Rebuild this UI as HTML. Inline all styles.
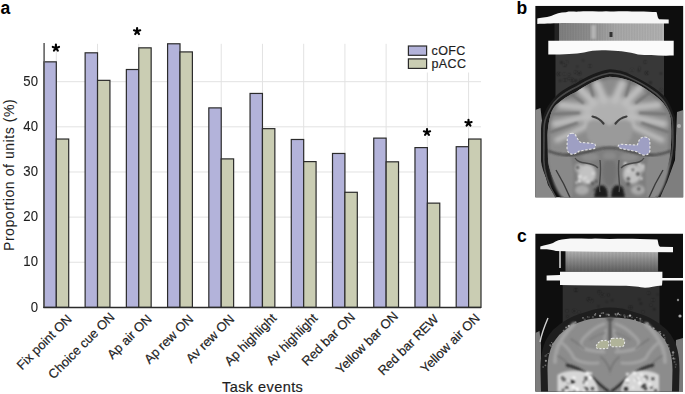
<!DOCTYPE html><html><head><meta charset="utf-8"><style>
html,body{margin:0;padding:0;background:#fff;}
body{width:685px;height:394px;position:relative;overflow:hidden;font-family:"Liberation Sans",sans-serif;color:#1e1e1e;}
.t:not(.pl):not(.yt){-webkit-text-stroke:0.2px #1e1e1e;}
.t{position:absolute;white-space:nowrap;line-height:1;}
.pl{font-weight:bold;font-size:17.5px;color:#000;}
.yt{font-size:14px;text-align:right;width:30px;-webkit-text-stroke:0.1px #1e1e1e;transform-origin:100% 50%;transform:scaleX(0.94);}
.xl{font-size:12.9px;transform-origin:100% 100%;transform:rotate(-45deg);}
.ast{font-size:23px;color:#000;font-weight:bold;}
svg{position:absolute;left:0;top:0;}
</style></head><body>

<svg width="685" height="394" viewBox="0 0 685 394"><defs><filter id="bl05" x="-20%" y="-20%" width="140%" height="140%"><feGaussianBlur stdDeviation="0.5"/></filter><filter id="bl06" x="-20%" y="-20%" width="140%" height="140%"><feGaussianBlur stdDeviation="0.6"/></filter><filter id="bl08" x="-20%" y="-20%" width="140%" height="140%"><feGaussianBlur stdDeviation="0.8"/></filter><filter id="bl1" x="-20%" y="-20%" width="140%" height="140%"><feGaussianBlur stdDeviation="1"/></filter><filter id="bl15" x="-20%" y="-20%" width="140%" height="140%"><feGaussianBlur stdDeviation="1.5"/></filter><filter id="bl2" x="-20%" y="-20%" width="140%" height="140%"><feGaussianBlur stdDeviation="1.9"/></filter></defs><clipPath id="cb"><rect x="535.2" y="5.8" width="148.2" height="191.8"/></clipPath><linearGradient id="gbb" x1="0" x2="1" y1="0" y2="0"><stop offset="0" stop-color="#7e7e7e"/><stop offset="0.3" stop-color="#8e8e8e"/><stop offset="0.55" stop-color="#a8a8a8"/><stop offset="1" stop-color="#b2b2b2"/></linearGradient><g clip-path="url(#cb)"><rect x="535.2" y="5.8" width="148.2" height="191.8" fill="#0e0e0e"/><rect x="555.5" y="40" width="108.5" height="85" fill="#383838"/><g filter="url(#bl08)"><circle cx="605.0" cy="80.6" r="1.2" fill="#252525"/><circle cx="604.9" cy="93.6" r="0.7" fill="#252525"/><circle cx="623.8" cy="90.9" r="0.7" fill="#252525"/><circle cx="572.0" cy="79.7" r="1.2" fill="#1c1c1c"/><circle cx="620.1" cy="73.4" r="0.9" fill="#1c1c1c"/><circle cx="623.1" cy="92.6" r="0.6" fill="#1c1c1c"/><circle cx="577.2" cy="66.6" r="0.6" fill="#252525"/><circle cx="591.6" cy="82.0" r="0.7" fill="#1c1c1c"/><circle cx="624.9" cy="78.0" r="1.1" fill="#252525"/><circle cx="626.4" cy="73.9" r="1.0" fill="#1c1c1c"/><circle cx="632.0" cy="69.9" r="0.8" fill="#252525"/><circle cx="560.2" cy="80.8" r="0.7" fill="#1c1c1c"/><circle cx="646.7" cy="73.0" r="1.3" fill="#1c1c1c"/><circle cx="579.6" cy="96.8" r="0.6" fill="#252525"/><circle cx="660.9" cy="73.5" r="0.7" fill="#1c1c1c"/><circle cx="639.5" cy="67.9" r="0.7" fill="#252525"/><circle cx="558.6" cy="74.0" r="1.2" fill="#1c1c1c"/><circle cx="583.1" cy="60.4" r="0.6" fill="#252525"/><circle cx="575.8" cy="80.6" r="0.9" fill="#1c1c1c"/><circle cx="661.4" cy="89.9" r="0.9" fill="#252525"/><circle cx="569.3" cy="74.5" r="0.7" fill="#252525"/><circle cx="648.6" cy="98.9" r="1.0" fill="#1c1c1c"/><circle cx="579.3" cy="73.3" r="1.2" fill="#1c1c1c"/><circle cx="561.5" cy="62.4" r="0.9" fill="#1c1c1c"/><circle cx="638.9" cy="70.5" r="0.8" fill="#1c1c1c"/><circle cx="564.9" cy="65.2" r="1.0" fill="#1c1c1c"/><circle cx="620.7" cy="72.4" r="0.9" fill="#252525"/><circle cx="645.2" cy="62.0" r="0.9" fill="#1c1c1c"/><circle cx="589.9" cy="66.0" r="1.0" fill="#1c1c1c"/><circle cx="573.8" cy="83.7" r="1.0" fill="#252525"/><circle cx="650.5" cy="82.6" r="0.9" fill="#1c1c1c"/><circle cx="568.6" cy="78.5" r="0.8" fill="#252525"/><circle cx="584.2" cy="92.2" r="1.0" fill="#252525"/><circle cx="612.1" cy="96.9" r="1.3" fill="#1c1c1c"/><circle cx="581.2" cy="80.6" r="1.2" fill="#1c1c1c"/><circle cx="586.7" cy="96.4" r="0.7" fill="#1c1c1c"/><circle cx="564.3" cy="74.1" r="0.8" fill="#1c1c1c"/><circle cx="575.7" cy="72.2" r="1.0" fill="#1c1c1c"/><circle cx="566.8" cy="62.1" r="0.9" fill="#252525"/><circle cx="626.6" cy="86.4" r="1.0" fill="#1c1c1c"/><circle cx="619.5" cy="96.6" r="0.9" fill="#252525"/><circle cx="631.3" cy="98.4" r="0.6" fill="#1c1c1c"/><circle cx="608.1" cy="88.1" r="0.8" fill="#1c1c1c"/><circle cx="565.0" cy="80.0" r="1.1" fill="#1c1c1c"/><circle cx="641.1" cy="96.3" r="0.8" fill="#252525"/></g><path d="M535.2,110 L540.5,108 L542.5,125 L541,160 L548,185 L556,197.6 L535.2,197.6Z" fill="#888"/><path d="M677,112 L683.4,110 L683.4,197.6 L660,197.6 L667,182 L675,160 Z" fill="#7e7e7e"/><circle cx="679" cy="126" r="2" fill="#b0b0b0" filter="url(#bl06)"/><rect x="557.5" y="22.5" width="106.5" height="18.8" fill="url(#gbb)"/><g filter="url(#bl05)"><rect x="559.0" y="23" width="0.6" height="18" fill="#000" opacity="0.08"/><rect x="560.6" y="23" width="0.6" height="18" fill="#000" opacity="0.08"/><rect x="562.2" y="23" width="0.6" height="18" fill="#000" opacity="0.08"/><rect x="563.8" y="23" width="0.6" height="18" fill="#000" opacity="0.08"/><rect x="565.4" y="23" width="0.6" height="18" fill="#000" opacity="0.08"/><rect x="567.0" y="23" width="0.6" height="18" fill="#000" opacity="0.08"/><rect x="568.6" y="23" width="0.6" height="18" fill="#000" opacity="0.08"/><rect x="570.2" y="23" width="0.6" height="18" fill="#000" opacity="0.08"/><rect x="571.8" y="23" width="0.6" height="18" fill="#000" opacity="0.08"/><rect x="573.4" y="23" width="0.6" height="18" fill="#000" opacity="0.08"/><rect x="575.0" y="23" width="0.6" height="18" fill="#000" opacity="0.08"/><rect x="576.6" y="23" width="0.6" height="18" fill="#000" opacity="0.08"/><rect x="578.2" y="23" width="0.6" height="18" fill="#000" opacity="0.08"/><rect x="579.8" y="23" width="0.6" height="18" fill="#000" opacity="0.08"/><rect x="581.4" y="23" width="0.6" height="18" fill="#000" opacity="0.08"/><rect x="583.0" y="23" width="0.6" height="18" fill="#000" opacity="0.08"/><rect x="584.6" y="23" width="0.6" height="18" fill="#000" opacity="0.08"/><rect x="586.2" y="23" width="0.6" height="18" fill="#000" opacity="0.08"/><rect x="587.8" y="23" width="0.6" height="18" fill="#000" opacity="0.08"/><rect x="589.4" y="23" width="0.6" height="18" fill="#000" opacity="0.08"/><rect x="591.0" y="23" width="0.6" height="18" fill="#000" opacity="0.08"/><rect x="592.6" y="23" width="0.6" height="18" fill="#000" opacity="0.08"/><rect x="594.2" y="23" width="0.6" height="18" fill="#000" opacity="0.08"/><rect x="595.8" y="23" width="0.6" height="18" fill="#000" opacity="0.08"/><rect x="597.4" y="23" width="0.6" height="18" fill="#000" opacity="0.08"/><rect x="599.0" y="23" width="0.6" height="18" fill="#000" opacity="0.08"/><rect x="600.6" y="23" width="0.6" height="18" fill="#000" opacity="0.08"/><rect x="602.2" y="23" width="0.6" height="18" fill="#000" opacity="0.08"/><rect x="603.8" y="23" width="0.6" height="18" fill="#000" opacity="0.08"/><rect x="605.4" y="23" width="0.6" height="18" fill="#000" opacity="0.08"/><rect x="607.0" y="23" width="0.6" height="18" fill="#000" opacity="0.08"/><rect x="608.6" y="23" width="0.6" height="18" fill="#000" opacity="0.08"/><rect x="610.2" y="23" width="0.6" height="18" fill="#000" opacity="0.08"/><rect x="611.8" y="23" width="0.6" height="18" fill="#000" opacity="0.08"/><rect x="613.4" y="23" width="0.6" height="18" fill="#000" opacity="0.08"/><rect x="615.0" y="23" width="0.6" height="18" fill="#000" opacity="0.08"/><rect x="616.6" y="23" width="0.6" height="18" fill="#000" opacity="0.08"/><rect x="618.2" y="23" width="0.6" height="18" fill="#000" opacity="0.08"/><rect x="619.8" y="23" width="0.6" height="18" fill="#000" opacity="0.08"/><rect x="621.4" y="23" width="0.6" height="18" fill="#000" opacity="0.08"/><rect x="623.0" y="23" width="0.6" height="18" fill="#000" opacity="0.08"/><rect x="624.6" y="23" width="0.6" height="18" fill="#000" opacity="0.08"/><rect x="626.2" y="23" width="0.6" height="18" fill="#000" opacity="0.08"/><rect x="627.8" y="23" width="0.6" height="18" fill="#000" opacity="0.08"/><rect x="629.4" y="23" width="0.6" height="18" fill="#000" opacity="0.08"/><rect x="631.0" y="23" width="0.6" height="18" fill="#000" opacity="0.08"/><rect x="632.6" y="23" width="0.6" height="18" fill="#000" opacity="0.08"/><rect x="634.2" y="23" width="0.6" height="18" fill="#000" opacity="0.08"/><rect x="635.8" y="23" width="0.6" height="18" fill="#000" opacity="0.08"/><rect x="637.4" y="23" width="0.6" height="18" fill="#000" opacity="0.08"/><rect x="639.0" y="23" width="0.6" height="18" fill="#000" opacity="0.08"/><rect x="640.6" y="23" width="0.6" height="18" fill="#000" opacity="0.08"/><rect x="642.2" y="23" width="0.6" height="18" fill="#000" opacity="0.08"/><rect x="643.8" y="23" width="0.6" height="18" fill="#000" opacity="0.08"/><rect x="645.4" y="23" width="0.6" height="18" fill="#000" opacity="0.08"/><rect x="647.0" y="23" width="0.6" height="18" fill="#000" opacity="0.08"/><rect x="648.6" y="23" width="0.6" height="18" fill="#000" opacity="0.08"/><rect x="650.2" y="23" width="0.6" height="18" fill="#000" opacity="0.08"/><rect x="651.8" y="23" width="0.6" height="18" fill="#000" opacity="0.08"/><rect x="653.4" y="23" width="0.6" height="18" fill="#000" opacity="0.08"/><rect x="655.0" y="23" width="0.6" height="18" fill="#000" opacity="0.08"/><rect x="656.6" y="23" width="0.6" height="18" fill="#000" opacity="0.08"/><rect x="658.2" y="23" width="0.6" height="18" fill="#000" opacity="0.08"/><rect x="659.8" y="23" width="0.6" height="18" fill="#000" opacity="0.08"/><rect x="661.4" y="23" width="0.6" height="18" fill="#000" opacity="0.08"/></g><rect x="591" y="25" width="5" height="14" fill="#c4c4c4" opacity="0.7" filter="url(#bl08)"/><rect x="609.5" y="32" width="3" height="5" fill="#333" filter="url(#bl06)"/><rect x="554.5" y="23" width="4.5" height="18" fill="#232323"/><path d="M537.3,18.5 C540,17.5 546,17.5 551,16 C556,13.5 560,12.5 566,12.2 C570,11 575,12 580,11.5 C590,11 598,12 606,11.2 C615,11.8 622,11 632,11.6 C642,11 650,12 656.5,12 C657.5,14 657,17 659,19.2 L668.7,19.5 L668.7,23.5 L600,23.2 L562,23.0 C550,23.5 543,23.6 537.3,24 Z" fill="#f6f6f6" filter="url(#bl05)"/><path d="M548.3,40.8 L673.7,40.8 L673.7,55.6 C660,55.8 648,55.5 638,54.5 C628,52 622,50.8 610,50.5 C598,49.8 592,50.5 584,52.5 C575,54 565,54.6 548.3,54.6 Z" fill="#fbfbfb" filter="url(#bl05)"/><path d="M560,197.6 C552,188 542,175 541,160 L541,132 C541,124 542,120 543,117 C546,108 550,102 555.3,96.7 C562,90 568,87 575.6,83.5 C586,77 598,71 610,69.3 C617,69.5 624,71.5 630.3,74.4 C638,78 645,81.5 650.6,85.6 C656,89 660,92 663.9,95.7 C669,101 672,109 675,117 C676,125 676,135 675.5,145 C675,160 671,172 665.7,181 L660,197.6 Z" fill="#1a1a1a"/><path d="M556,197.6 C549,186 544,175 543.8,160 L544,132 C544,125 545,120 546,117.5 C549,110 552,104 557.5,99 C564,93 570,90 577,86.7 C587,80.5 598,75 610,73 C617,73.2 624,75 629.5,77.6 C637,81 644,84.5 649.5,88.7 C655,92 659,95.5 662,99 C667,104.5 669.5,111 672,118 C673,126 673,135 672.8,145 C672,160 668.5,171 663,180.5 L657,197.6" fill="none" stroke="#4a4a4a" stroke-width="1.6" filter="url(#bl06)"/><path d="M609.5,76.8 C617,77 624,78.5 630,80.8 C637,83.5 644,87.5 650,92 C656,96 660,99.5 663.5,103.5 C667,108 669.5,113 670.5,118 C671.5,126 671.5,135 671,145 C670,160 666,172 660,183 L653,197.6 L565,197.6 C558,188 549.5,175 548,160 L547.5,135 C548,125 549.5,118 551.5,112 C553,108.5 554.5,106.5 556,105 C562,99.5 568,95.5 576,92 C586,85 597,79 609.5,76.8 Z" fill="#8c8c8c"/><clipPath id="cbr"><path d="M609.5,76.8 C617,77 624,78.5 630,80.8 C637,83.5 644,87.5 650,92 C656,96 660,99.5 663.5,103.5 C667,108 669.5,113 670.5,118 C671.5,126 671.5,135 671,145 C670,160 666,172 660,183 L653,197.6 L565,197.6 C558,188 549.5,175 548,160 L547.5,135 C548,125 549.5,118 551.5,112 C553,108.5 554.5,106.5 556,105 C562,99.5 568,95.5 576,92 C586,85 597,79 609.5,76.8 Z"/></clipPath><g clip-path="url(#cbr)"><path d="M609.5,76.8 C617,77 624,78.5 630,80.8 C637,83.5 644,87.5 650,92 C656,96 660,99.5 663.5,103.5 C667,108 669.5,113 670.5,118 C671.5,126 671.5,135 671,145 C670,160 666,172 660,183 L653,197.6 L565,197.6 C558,188 549.5,175 548,160 L547.5,135 C548,125 549.5,118 551.5,112 C553,108.5 554.5,106.5 556,105 C562,99.5 568,95.5 576,92 C586,85 597,79 609.5,76.8 Z" fill="none" stroke="#7c7c7c" stroke-width="5" filter="url(#bl1)"/><g filter="url(#bl2)"><path d="M582,112 C588,99 600,93 609.5,97 C619,93 631,99 637,112 C639,122 632,130 622,133 L597,133 C587,130 580,122 582,112 Z" fill="#b0b0b0"/><line x1="604" y1="100" x2="597" y2="84" stroke="#bdbdbd" stroke-width="8" stroke-linecap="round"/><line x1="615" y1="100" x2="622" y2="84" stroke="#bdbdbd" stroke-width="8" stroke-linecap="round"/><line x1="594" y1="103" x2="579" y2="88" stroke="#bdbdbd" stroke-width="7.5" stroke-linecap="round"/><line x1="625" y1="103" x2="640" y2="88" stroke="#bdbdbd" stroke-width="7.5" stroke-linecap="round"/><line x1="589" y1="108" x2="561" y2="105" stroke="#bdbdbd" stroke-width="7" stroke-linecap="round"/><line x1="630" y1="108" x2="658" y2="105" stroke="#bdbdbd" stroke-width="7" stroke-linecap="round"/><line x1="589" y1="116" x2="555" y2="124" stroke="#bdbdbd" stroke-width="6.5" stroke-linecap="round"/><line x1="630" y1="116" x2="664" y2="124" stroke="#bdbdbd" stroke-width="6.5" stroke-linecap="round"/><line x1="591" y1="124" x2="557" y2="140" stroke="#bdbdbd" stroke-width="5.5" stroke-linecap="round"/><line x1="628" y1="124" x2="662" y2="140" stroke="#bdbdbd" stroke-width="5.5" stroke-linecap="round"/></g><g filter="url(#bl08)" stroke="#6f6f6f" stroke-width="2" fill="none" stroke-linecap="round"><line x1="588" y1="79.5" x2="593" y2="96"/><line x1="631" y1="79.5" x2="626" y2="96"/><line x1="567" y1="91" x2="583" y2="103"/><line x1="652" y1="91" x2="636" y2="103"/><line x1="553" y1="114" x2="579" y2="113"/><line x1="666" y1="114" x2="640" y2="113"/><line x1="551" y1="132" x2="577" y2="123"/><line x1="668" y1="132" x2="642" y2="123"/></g></g><path d="M588,122 C596,118 604,122 609.5,126 C615,122 623,118 631,122 C635,130 632,142 624,146 L595,146 C587,142 584,130 588,122 Z" fill="#9a9a9a" filter="url(#bl15)"/><line x1="609.5" y1="77" x2="609.5" y2="104" stroke="#666" stroke-width="1.6" filter="url(#bl06)"/><path d="M592.5,116.5 C597,117.5 600.5,119.5 603.5,123.5 M626.5,116.5 C622,117.5 618.5,119.5 615.5,123.5" stroke="#3e3e3e" stroke-width="2.2" fill="none" stroke-linecap="round" filter="url(#bl06)"/><path d="M609.5,112 L609.5,140" stroke="#7c7c7c" stroke-width="2.5" filter="url(#bl1)"/><path d="M560,152 C575,155 595,150 609.5,148 C624,150 644,155 659,152 L664,165 L655,197.6 L564,197.6 L555,165 Z" fill="#7e7e7e"/><g filter="url(#bl15)"><ellipse cx="587" cy="174" rx="9" ry="10" fill="#c2c2c2"/><ellipse cx="632" cy="174" rx="9" ry="10" fill="#c2c2c2"/><ellipse cx="579" cy="168" rx="4" ry="4" fill="#bcbcbc"/><ellipse cx="641" cy="168" rx="4" ry="4" fill="#bcbcbc"/><ellipse cx="582" cy="190" rx="7" ry="5" fill="#aaa"/><ellipse cx="638" cy="190" rx="7" ry="5" fill="#aaa"/><ellipse cx="609.5" cy="172" rx="7" ry="14" fill="#737373"/><ellipse cx="590" cy="157" rx="9" ry="4" fill="#8c8c8c"/><ellipse cx="629" cy="157" rx="9" ry="4" fill="#8c8c8c"/><ellipse cx="609.5" cy="156" rx="7" ry="4" fill="#8a8a8a"/></g><g filter="url(#bl08)"><circle cx="579.6" cy="181.3" r="1.6" fill="#d8d8d8"/><circle cx="594.6" cy="189.7" r="1.5" fill="#555"/><circle cx="580.0" cy="176.8" r="1.8" fill="#e2e2e2"/><circle cx="584.2" cy="178.4" r="1.1" fill="#e2e2e2"/><circle cx="596.3" cy="181.4" r="1.4" fill="#555"/><circle cx="593.0" cy="173.4" r="1.4" fill="#d8d8d8"/><circle cx="587.9" cy="181.4" r="1.6" fill="#d8d8d8"/><circle cx="576.5" cy="182.7" r="1.1" fill="#e2e2e2"/><circle cx="586.0" cy="177.5" r="1.3" fill="#d8d8d8"/><circle cx="579.3" cy="180.6" r="1.5" fill="#e2e2e2"/><circle cx="577.6" cy="167.5" r="1.7" fill="#555"/><circle cx="592.6" cy="183.4" r="1.6" fill="#555"/><circle cx="643.0" cy="165.9" r="1.0" fill="#d8d8d8"/><circle cx="625.2" cy="165.4" r="1.7" fill="#d8d8d8"/><circle cx="639.2" cy="164.2" r="1.3" fill="#e2e2e2"/><circle cx="628.3" cy="178.8" r="1.9" fill="#555"/><circle cx="637.9" cy="174.0" r="1.9" fill="#555"/><circle cx="641.3" cy="178.5" r="1.3" fill="#e2e2e2"/><circle cx="625.2" cy="165.1" r="1.5" fill="#555"/><circle cx="638.8" cy="188.9" r="1.6" fill="#555"/><circle cx="628.5" cy="171.4" r="1.2" fill="#d8d8d8"/><circle cx="628.2" cy="183.9" r="2.0" fill="#555"/><circle cx="632.9" cy="169.8" r="1.3" fill="#555"/><circle cx="625.3" cy="163.4" r="1.5" fill="#e2e2e2"/></g><path d="M596,188 C600,184 605,184 607,190 L608,197.6 L594,197.6 Z M612,190 C614,184 619,184 623,188 L625,197.6 L611,197.6 Z" fill="#1e1e1e" filter="url(#bl1)"/><path d="M575,158 C580,166 590,160 598,168 M644,158 C639,166 629,160 621,168 M600,160 C602,175 598,185 600,192 M619,160 C617,175 621,185 619,192" stroke="#4a4a4a" stroke-width="1.4" fill="none" filter="url(#bl06)"/><path d="M549,152 C556,150 564,152 570,156 C574,165 574,180 572,197.6 L562,197.6 C554,188 549,172 549,152 Z" fill="#898989" filter="url(#bl08)"/><path d="M670,152 C663,150 655,152 649,156 C645,165 645,180 647,197.6 L657,197.6 C665,188 670,172 670,152 Z" fill="#898989" filter="url(#bl08)"/><path d="M556,170 C562,180 566,188 570,197.6 M663,170 C657,180 653,188 649,197.6" stroke="#3a3a3a" stroke-width="1.4" fill="none" filter="url(#bl06)"/><path d="M548,151 C560,155 568,157 582,153 C595,150 603,147.5 609.5,147.5 C616,147.5 624,150 637,153 C651,157 659,155 671,151" stroke="#333" stroke-width="1.7" fill="none" filter="url(#bl08)"/><path d="M572.1,133.2 C569.5,133.2 567.8,135 567.3,138 L567,148 C567.2,152 569.5,154.2 572.8,154.2 C575.5,154 577.5,152.5 579.2,151 L594.2,148.6 C595.3,148.3 595.6,146.5 595.4,145.5 C595.2,144.2 594.7,143.6 594.2,143.5 L580.5,142.4 C578.5,141 577.5,138.5 576.2,136.2 C575.2,134.3 573.8,133.2 572.1,133.2 Z" fill="#9e9fc3" stroke="#e4e4e4" stroke-width="1.1" stroke-dasharray="2.4 1.6"/><path d="M644.8,137 C647.5,137 649.5,138.5 649.8,141 L650,150 C649.8,153.5 647.5,155.2 644,155.1 C640.5,154.8 638.5,152.5 636.3,151.5 L622,148.7 C619.5,148.4 618,147 618.2,146 C618.5,144.8 619.5,144.3 621,144.3 L637,145.1 C638,144 638.5,142 639,140.5 C639.8,138.5 641.8,137 644.8,137 Z" fill="#9e9fc3" stroke="#e4e4e4" stroke-width="1.1" stroke-dasharray="2.4 1.6"/></g><clipPath id="cc"><rect x="535.2" y="233.5" width="147.8" height="158.2"/></clipPath><linearGradient id="gbc" x1="0" x2="0" y1="0" y2="1"><stop offset="0" stop-color="#b4b4b4"/><stop offset="0.45" stop-color="#8c8c8c"/><stop offset="1" stop-color="#606060"/></linearGradient><g clip-path="url(#cc)"><rect x="535.2" y="233.5" width="147.8" height="158.2" fill="#0e0e0e"/><rect x="562.7" y="284" width="96.8" height="50" fill="#2f2f2f"/><g filter="url(#bl08)"><circle cx="622.6" cy="310.8" r="1.2" fill="#1a1a1a"/><circle cx="643.0" cy="311.7" r="0.8" fill="#1a1a1a"/><circle cx="648.7" cy="293.2" r="0.9" fill="#1a1a1a"/><circle cx="599.8" cy="292.9" r="0.8" fill="#1a1a1a"/><circle cx="602.4" cy="295.1" r="1.2" fill="#222"/><circle cx="579.0" cy="312.3" r="0.7" fill="#222"/><circle cx="575.9" cy="290.0" r="1.2" fill="#1a1a1a"/><circle cx="636.7" cy="316.9" r="0.7" fill="#1a1a1a"/><circle cx="591.2" cy="316.9" r="1.0" fill="#1a1a1a"/><circle cx="581.1" cy="317.1" r="0.7" fill="#222"/><circle cx="592.1" cy="300.1" r="0.7" fill="#1a1a1a"/><circle cx="588.8" cy="299.3" r="1.2" fill="#1a1a1a"/><circle cx="620.0" cy="309.8" r="0.6" fill="#222"/><circle cx="640.9" cy="303.5" r="0.8" fill="#222"/><circle cx="608.4" cy="294.9" r="0.8" fill="#1a1a1a"/><circle cx="653.2" cy="300.0" r="0.9" fill="#222"/><circle cx="598.4" cy="306.2" r="0.6" fill="#1a1a1a"/><circle cx="630.5" cy="307.5" r="1.3" fill="#1a1a1a"/><circle cx="635.0" cy="316.0" r="1.3" fill="#222"/><circle cx="612.2" cy="315.0" r="0.8" fill="#222"/><circle cx="574.2" cy="311.0" r="1.2" fill="#222"/><circle cx="567.4" cy="316.5" r="0.7" fill="#222"/><circle cx="612.2" cy="300.2" r="0.7" fill="#222"/><circle cx="650.9" cy="305.3" r="0.8" fill="#222"/><circle cx="592.8" cy="312.4" r="1.0" fill="#222"/><circle cx="657.7" cy="294.5" r="0.6" fill="#222"/><circle cx="567.0" cy="310.7" r="0.8" fill="#222"/><circle cx="606.8" cy="301.8" r="0.6" fill="#1a1a1a"/><circle cx="639.4" cy="299.4" r="0.7" fill="#1a1a1a"/><circle cx="623.3" cy="312.1" r="0.7" fill="#222"/><circle cx="599.1" cy="291.6" r="0.9" fill="#1a1a1a"/><circle cx="606.6" cy="318.0" r="1.2" fill="#222"/><circle cx="654.3" cy="309.3" r="0.8" fill="#222"/><circle cx="591.4" cy="301.3" r="0.7" fill="#222"/></g><path d="M535.2,333 L539.5,331 L541,345 L541,391.7 L535.2,391.7Z" fill="#7c7c7c"/><path d="M676,340 L683,338 L683,391.7 L674,391.7 Z" fill="#7a7a7a"/><path d="M540,342 C542,332 545,325 548,318" stroke="#d0d0d0" stroke-width="1.4" fill="none" filter="url(#bl05)"/><circle cx="680" cy="316" r="1.6" fill="#aaa" filter="url(#bl06)"/><circle cx="678" cy="300" r="1.2" fill="#888" filter="url(#bl06)"/><rect x="565.5" y="251" width="92.6" height="20.5" fill="url(#gbc)"/><g filter="url(#bl05)"><rect x="566.0" y="251" width="0.6" height="20.5" fill="#000" opacity="0.1"/><rect x="567.4" y="251" width="0.6" height="20.5" fill="#000" opacity="0.1"/><rect x="568.8" y="251" width="0.6" height="20.5" fill="#000" opacity="0.1"/><rect x="570.2" y="251" width="0.6" height="20.5" fill="#000" opacity="0.1"/><rect x="571.6" y="251" width="0.6" height="20.5" fill="#000" opacity="0.1"/><rect x="573.0" y="251" width="0.6" height="20.5" fill="#000" opacity="0.1"/><rect x="574.4" y="251" width="0.6" height="20.5" fill="#000" opacity="0.1"/><rect x="575.8" y="251" width="0.6" height="20.5" fill="#000" opacity="0.1"/><rect x="577.2" y="251" width="0.6" height="20.5" fill="#000" opacity="0.1"/><rect x="578.6" y="251" width="0.6" height="20.5" fill="#000" opacity="0.1"/><rect x="580.0" y="251" width="0.6" height="20.5" fill="#000" opacity="0.1"/><rect x="581.4" y="251" width="0.6" height="20.5" fill="#000" opacity="0.1"/><rect x="582.8" y="251" width="0.6" height="20.5" fill="#000" opacity="0.1"/><rect x="584.2" y="251" width="0.6" height="20.5" fill="#000" opacity="0.1"/><rect x="585.6" y="251" width="0.6" height="20.5" fill="#000" opacity="0.1"/><rect x="587.0" y="251" width="0.6" height="20.5" fill="#000" opacity="0.1"/><rect x="588.4" y="251" width="0.6" height="20.5" fill="#000" opacity="0.1"/><rect x="589.8" y="251" width="0.6" height="20.5" fill="#000" opacity="0.1"/><rect x="591.2" y="251" width="0.6" height="20.5" fill="#000" opacity="0.1"/><rect x="592.6" y="251" width="0.6" height="20.5" fill="#000" opacity="0.1"/><rect x="594.0" y="251" width="0.6" height="20.5" fill="#000" opacity="0.1"/><rect x="595.4" y="251" width="0.6" height="20.5" fill="#000" opacity="0.1"/><rect x="596.8" y="251" width="0.6" height="20.5" fill="#000" opacity="0.1"/><rect x="598.2" y="251" width="0.6" height="20.5" fill="#000" opacity="0.1"/><rect x="599.6" y="251" width="0.6" height="20.5" fill="#000" opacity="0.1"/><rect x="601.0" y="251" width="0.6" height="20.5" fill="#000" opacity="0.1"/><rect x="602.4" y="251" width="0.6" height="20.5" fill="#000" opacity="0.1"/><rect x="603.8" y="251" width="0.6" height="20.5" fill="#000" opacity="0.1"/><rect x="605.2" y="251" width="0.6" height="20.5" fill="#000" opacity="0.1"/><rect x="606.6" y="251" width="0.6" height="20.5" fill="#000" opacity="0.1"/><rect x="608.0" y="251" width="0.6" height="20.5" fill="#000" opacity="0.1"/><rect x="609.4" y="251" width="0.6" height="20.5" fill="#000" opacity="0.1"/><rect x="610.8" y="251" width="0.6" height="20.5" fill="#000" opacity="0.1"/><rect x="612.2" y="251" width="0.6" height="20.5" fill="#000" opacity="0.1"/><rect x="613.6" y="251" width="0.6" height="20.5" fill="#000" opacity="0.1"/><rect x="615.0" y="251" width="0.6" height="20.5" fill="#000" opacity="0.1"/><rect x="616.4" y="251" width="0.6" height="20.5" fill="#000" opacity="0.1"/><rect x="617.8" y="251" width="0.6" height="20.5" fill="#000" opacity="0.1"/><rect x="619.2" y="251" width="0.6" height="20.5" fill="#000" opacity="0.1"/><rect x="620.6" y="251" width="0.6" height="20.5" fill="#000" opacity="0.1"/><rect x="622.0" y="251" width="0.6" height="20.5" fill="#000" opacity="0.1"/><rect x="623.4" y="251" width="0.6" height="20.5" fill="#000" opacity="0.1"/><rect x="624.8" y="251" width="0.6" height="20.5" fill="#000" opacity="0.1"/><rect x="626.2" y="251" width="0.6" height="20.5" fill="#000" opacity="0.1"/><rect x="627.6" y="251" width="0.6" height="20.5" fill="#000" opacity="0.1"/><rect x="629.0" y="251" width="0.6" height="20.5" fill="#000" opacity="0.1"/><rect x="630.4" y="251" width="0.6" height="20.5" fill="#000" opacity="0.1"/><rect x="631.8" y="251" width="0.6" height="20.5" fill="#000" opacity="0.1"/><rect x="633.2" y="251" width="0.6" height="20.5" fill="#000" opacity="0.1"/><rect x="634.6" y="251" width="0.6" height="20.5" fill="#000" opacity="0.1"/><rect x="636.0" y="251" width="0.6" height="20.5" fill="#000" opacity="0.1"/><rect x="637.4" y="251" width="0.6" height="20.5" fill="#000" opacity="0.1"/><rect x="638.8" y="251" width="0.6" height="20.5" fill="#000" opacity="0.1"/><rect x="640.2" y="251" width="0.6" height="20.5" fill="#000" opacity="0.1"/><rect x="641.6" y="251" width="0.6" height="20.5" fill="#000" opacity="0.1"/><rect x="643.0" y="251" width="0.6" height="20.5" fill="#000" opacity="0.1"/><rect x="644.4" y="251" width="0.6" height="20.5" fill="#000" opacity="0.1"/><rect x="645.8" y="251" width="0.6" height="20.5" fill="#000" opacity="0.1"/><rect x="647.2" y="251" width="0.6" height="20.5" fill="#000" opacity="0.1"/><rect x="648.6" y="251" width="0.6" height="20.5" fill="#000" opacity="0.1"/><rect x="650.0" y="251" width="0.6" height="20.5" fill="#000" opacity="0.1"/><rect x="651.4" y="251" width="0.6" height="20.5" fill="#000" opacity="0.1"/><rect x="652.8" y="251" width="0.6" height="20.5" fill="#000" opacity="0.1"/><rect x="654.2" y="251" width="0.6" height="20.5" fill="#000" opacity="0.1"/><rect x="655.6" y="251" width="0.6" height="20.5" fill="#000" opacity="0.1"/><rect x="657.0" y="251" width="0.6" height="20.5" fill="#000" opacity="0.1"/></g><rect x="559.2" y="250" width="1.6" height="18" fill="#d0d0d0" filter="url(#bl05)"/><path d="M540.3,246.5 C545,245 549,244.5 553,243 C556,240.5 560,239.5 566,239 C575,238 585,239.2 595,238.6 C610,239.3 625,238.4 640,239.1 L657.5,239.5 C658.5,243 658,245 660,246.8 L673,247 L673,252.2 L600,251.8 L566,251.3 L556,251 C552,249.5 547,249 540.3,249.2 Z" fill="#f7f7f7" filter="url(#bl05)"/><path d="M546.6,275.5 L560,275 L560,271.8 L662.4,271.8 L662.4,278 L683,278 L683,280.6 L662.4,280.6 L662,285.5 C655,286 650,287.5 645,287.8 C640,287 630,285.5 620,285.8 C605,285.5 590,285.3 575,285.3 L560,285 L560,280.6 L546.6,280.6 Z" fill="#f8f8f8" filter="url(#bl05)"/><path d="M541,391.7 L540.5,370 C540.5,357 542,350 545,342 C549,334 553,329.5 557.1,326.5 C565,319.5 575,315 586,312 C594,309 602,307.5 610,307.5 C618,307.5 626,309 634,312 C645,315 655,319.5 662.9,326.5 C667,329.5 671,334 675,342 C678,350 679.5,357 679.5,370 L679,391.7 Z" fill="#1e1e1e"/><g filter="url(#bl05)"><circle cx="575.5" cy="322.4" r="1.1" fill="#6a6a6a"/><circle cx="548.2" cy="353.5" r="0.6" fill="#8a8a8a"/><circle cx="595.6" cy="313.9" r="0.6" fill="#b0b0b0"/><circle cx="624.3" cy="315.5" r="1.2" fill="#4a4a4a"/><circle cx="624.9" cy="317.0" r="0.9" fill="#6a6a6a"/><circle cx="550.7" cy="346.1" r="0.8" fill="#4a4a4a"/><circle cx="662.9" cy="338.7" r="0.8" fill="#8a8a8a"/><circle cx="618.2" cy="313.3" r="0.9" fill="#8a8a8a"/><circle cx="617.1" cy="314.2" r="0.8" fill="#b0b0b0"/><circle cx="563.6" cy="330.7" r="0.9" fill="#6a6a6a"/><circle cx="616.1" cy="314.9" r="1.0" fill="#505050"/><circle cx="546.7" cy="354.8" r="0.7" fill="#505050"/><circle cx="606.4" cy="314.5" r="0.9" fill="#4a4a4a"/><circle cx="669.2" cy="348.0" r="0.9" fill="#4a4a4a"/><circle cx="660.2" cy="334.5" r="0.9" fill="#505050"/><circle cx="640.0" cy="321.6" r="1.2" fill="#4a4a4a"/><circle cx="663.8" cy="338.9" r="0.6" fill="#505050"/><circle cx="601.4" cy="313.2" r="0.7" fill="#6a6a6a"/><circle cx="571.2" cy="325.2" r="0.6" fill="#b0b0b0"/><circle cx="600.1" cy="315.8" r="1.1" fill="#b0b0b0"/><circle cx="568.9" cy="326.1" r="1.2" fill="#b0b0b0"/><circle cx="551.7" cy="342.5" r="0.6" fill="#8a8a8a"/><circle cx="664.5" cy="339.9" r="0.9" fill="#8a8a8a"/><circle cx="584.8" cy="319.8" r="1.2" fill="#4a4a4a"/><circle cx="640.5" cy="320.1" r="0.8" fill="#4a4a4a"/><circle cx="589.0" cy="317.1" r="0.7" fill="#6a6a6a"/><circle cx="675.4" cy="364.5" r="0.6" fill="#4a4a4a"/><circle cx="543.1" cy="367.1" r="1.0" fill="#505050"/><circle cx="545.6" cy="355.9" r="1.2" fill="#505050"/><circle cx="630.0" cy="315.6" r="1.2" fill="#b0b0b0"/><circle cx="603.2" cy="313.1" r="1.0" fill="#6a6a6a"/><circle cx="653.7" cy="329.2" r="0.6" fill="#4a4a4a"/><circle cx="674.6" cy="358.8" r="1.1" fill="#4a4a4a"/><circle cx="655.7" cy="331.1" r="1.0" fill="#6a6a6a"/><circle cx="566.1" cy="327.4" r="0.9" fill="#8a8a8a"/><circle cx="658.7" cy="332.5" r="1.1" fill="#8a8a8a"/><circle cx="664.8" cy="337.9" r="0.9" fill="#4a4a4a"/><circle cx="653.8" cy="328.4" r="0.8" fill="#b0b0b0"/><circle cx="647.6" cy="323.3" r="1.2" fill="#505050"/><circle cx="583.0" cy="317.9" r="0.8" fill="#8a8a8a"/><circle cx="608.0" cy="314.4" r="0.9" fill="#6a6a6a"/><circle cx="640.3" cy="318.8" r="1.1" fill="#6a6a6a"/><circle cx="660.4" cy="333.7" r="0.9" fill="#8a8a8a"/><circle cx="635.0" cy="320.1" r="0.9" fill="#b0b0b0"/><circle cx="653.0" cy="327.9" r="0.6" fill="#8a8a8a"/><circle cx="627.7" cy="316.6" r="1.1" fill="#4a4a4a"/><circle cx="676.0" cy="364.5" r="0.9" fill="#4a4a4a"/><circle cx="545.4" cy="365.3" r="0.9" fill="#6a6a6a"/><circle cx="673.5" cy="358.0" r="0.6" fill="#8a8a8a"/><circle cx="559.7" cy="335.2" r="0.8" fill="#505050"/><circle cx="592.9" cy="317.0" r="1.1" fill="#505050"/><circle cx="642.0" cy="320.9" r="0.7" fill="#4a4a4a"/><circle cx="552.8" cy="344.3" r="1.0" fill="#8a8a8a"/><circle cx="657.8" cy="331.9" r="1.0" fill="#4a4a4a"/><circle cx="620.7" cy="314.9" r="0.9" fill="#4a4a4a"/><circle cx="660.0" cy="331.7" r="0.8" fill="#8a8a8a"/><circle cx="658.3" cy="332.7" r="0.9" fill="#6a6a6a"/><circle cx="632.0" cy="317.3" r="0.9" fill="#505050"/><circle cx="616.5" cy="315.6" r="1.1" fill="#4a4a4a"/><circle cx="673.4" cy="358.5" r="1.1" fill="#8a8a8a"/><circle cx="550.2" cy="345.2" r="1.0" fill="#6a6a6a"/><circle cx="595.0" cy="314.8" r="1.1" fill="#6a6a6a"/><circle cx="553.7" cy="343.2" r="0.8" fill="#8a8a8a"/><circle cx="551.3" cy="346.1" r="0.8" fill="#6a6a6a"/><circle cx="608.9" cy="315.0" r="1.0" fill="#8a8a8a"/><circle cx="675.5" cy="367.1" r="0.8" fill="#505050"/><circle cx="649.5" cy="326.7" r="1.0" fill="#b0b0b0"/><circle cx="587.5" cy="316.9" r="0.7" fill="#6a6a6a"/><circle cx="672.1" cy="355.5" r="0.8" fill="#6a6a6a"/><circle cx="545.9" cy="360.8" r="1.1" fill="#8a8a8a"/><circle cx="667.9" cy="344.7" r="0.7" fill="#b0b0b0"/><circle cx="673.1" cy="355.1" r="0.8" fill="#6a6a6a"/><circle cx="660.9" cy="337.3" r="1.2" fill="#505050"/><circle cx="636.9" cy="317.5" r="0.6" fill="#8a8a8a"/><circle cx="668.5" cy="344.9" r="0.9" fill="#4a4a4a"/><circle cx="673.1" cy="352.5" r="1.2" fill="#8a8a8a"/><circle cx="674.5" cy="362.1" r="1.0" fill="#505050"/><circle cx="615.3" cy="314.1" r="0.8" fill="#8a8a8a"/><circle cx="663.8" cy="335.3" r="1.0" fill="#6a6a6a"/><circle cx="619.2" cy="314.6" r="0.7" fill="#b0b0b0"/></g><path d="M548,391.7 L547.5,370 C547.5,360 549,353 551.5,347 C555,339 559.5,334 564,331 C572,324.5 582,320.5 592,318.8 C598,318 604,317.5 610,317.5 C616,317.5 622,318 628,318.8 C638,320.5 648,324.5 656,331 C660.5,334 665,339 668.5,347 C671,353 672.5,360 672.5,370 L672,391.7 Z" fill="#8c8c8c"/><g filter="url(#bl1)" fill="none" stroke="#a2a2a2" stroke-linecap="round"><path d="M604,324 C598,326 592,330 588,334 C583,338 580,342 581,346 C583,350 592,351 604,352" stroke-width="3.2"/><path d="M 616.0,324 C 622.0,326 628.0,330 632.0,334 C 637.0,338 640.0,342 639.0,346 C 637.0,350 628.0,351 616.0,352" stroke-width="3.2"/><path d="M574,324 C568,330 562,338 558,346 C556,352 555,356 555,362" stroke-width="4"/><path d="M 646.0,324 C 652.0,330 658.0,338 662.0,346 C 664.0,352 665.0,356 665.0,362" stroke-width="4"/><path d="M562,343 C567,347 571,352 574,358 C578,362 588,364 598,363" stroke-width="3.2"/><path d="M 658.0,343 C 653.0,347 649.0,352 646.0,358 C 642.0,362 632.0,364 622.0,363" stroke-width="3.2"/><path d="M606,330 C605,336 604,343 602,350" stroke-width="2.5"/><path d="M 614.0,330 C 615.0,336 616.0,343 618.0,350" stroke-width="2.5"/></g><g filter="url(#bl08)" fill="none" stroke="#767676" stroke-linecap="round"><path d="M571,339 C576,342 580,345 584,349" stroke-width="1.6"/><path d="M 649.0,339 C 644.0,342 640.0,345 636.0,349" stroke-width="1.6"/><path d="M558,356 C562,358 566,361 569,366" stroke-width="1.4"/><path d="M 662.0,356 C 658.0,358 654.0,361 651.0,366" stroke-width="1.4"/><path d="M590,340 C595,336 600,334 605,333" stroke-width="1.2"/><path d="M 630.0,340 C 625.0,336 620.0,334 615.0,333" stroke-width="1.2"/></g><g filter="url(#bl08)" fill="none" stroke-linecap="round"><path d="M610,318 L610,341" stroke="#4e4e4e" stroke-width="2.2"/><path d="M605,317.5 L610,323 L615,317.5 Z" fill="#555" stroke="none"/><path d="M601,357 C605,360 608,364 610,371 C612,364 615,360 619,357" stroke="#767676" stroke-width="1.8"/></g><path d="M566,365 C575,366 585,372 595,380 C600,385 605,389 609,391.7 M654,365 C645,366 635,372 625,380 C620,385 615,389 611,391.7" stroke="#222" stroke-width="2.4" fill="none" filter="url(#bl08)"/><path d="M557.5,375 C565,370 576,370 586,372 C593,376 597,383 598.5,391.7 L557.5,391.7 Z" fill="#d6d6d6" filter="url(#bl08)"/><path d="M659,375 C652,370 641,370 632,372 C626,376 622,383 621,391.7 L659,391.7 Z" fill="#d6d6d6" filter="url(#bl08)"/><g filter="url(#bl08)"><circle cx="562.4" cy="377.7" r="1.7" fill="#606060"/><circle cx="563.4" cy="390.3" r="1.8" fill="#606060"/><circle cx="586.2" cy="378.2" r="2.1" fill="#606060"/><circle cx="563.9" cy="379.5" r="2.1" fill="#606060"/><circle cx="575.2" cy="390.9" r="1.3" fill="#2a2a2a"/><circle cx="586.6" cy="389.3" r="1.6" fill="#2a2a2a"/><circle cx="572.6" cy="381.5" r="2.3" fill="#2a2a2a"/><circle cx="585.2" cy="382.2" r="2.0" fill="#2a2a2a"/><circle cx="592.5" cy="388.6" r="1.6" fill="#2a2a2a"/><circle cx="566.7" cy="387.9" r="1.7" fill="#2a2a2a"/><circle cx="585.5" cy="389.0" r="2.0" fill="#2a2a2a"/><circle cx="568.6" cy="382.5" r="1.6" fill="#444"/><circle cx="636.8" cy="379.5" r="1.4" fill="#444"/><circle cx="642.9" cy="386.4" r="1.9" fill="#444"/><circle cx="651.4" cy="387.4" r="1.2" fill="#2a2a2a"/><circle cx="645.5" cy="388.6" r="1.7" fill="#2a2a2a"/><circle cx="655.6" cy="390.7" r="1.6" fill="#444"/><circle cx="645.3" cy="385.3" r="1.3" fill="#606060"/><circle cx="626.0" cy="389.0" r="2.2" fill="#2a2a2a"/><circle cx="627.3" cy="381.4" r="1.8" fill="#606060"/><circle cx="645.8" cy="377.9" r="2.3" fill="#606060"/><circle cx="652.9" cy="378.7" r="1.5" fill="#2a2a2a"/><circle cx="644.2" cy="385.1" r="1.4" fill="#2a2a2a"/><circle cx="568.8" cy="382.0" r="1.2" fill="#fafafa"/><circle cx="590.0" cy="377.6" r="1.9" fill="#ffffff"/><circle cx="586.3" cy="382.9" r="1.6" fill="#ffffff"/><circle cx="573.9" cy="378.0" r="1.7" fill="#fafafa"/><circle cx="590.7" cy="373.5" r="1.3" fill="#ffffff"/><circle cx="584.3" cy="390.0" r="1.3" fill="#ffffff"/><circle cx="573.2" cy="387.1" r="1.9" fill="#fafafa"/><circle cx="587.5" cy="373.5" r="2.0" fill="#fafafa"/><circle cx="576.9" cy="389.3" r="2.0" fill="#fafafa"/><circle cx="566.3" cy="390.8" r="1.5" fill="#fafafa"/><circle cx="639.8" cy="383.0" r="1.8" fill="#ffffff"/><circle cx="633.0" cy="387.5" r="1.0" fill="#ffffff"/><circle cx="635.2" cy="380.3" r="1.3" fill="#fafafa"/><circle cx="634.4" cy="373.1" r="1.5" fill="#fafafa"/><circle cx="644.6" cy="379.1" r="1.4" fill="#fafafa"/><circle cx="627.3" cy="380.3" r="1.9" fill="#ffffff"/><circle cx="638.0" cy="378.7" r="1.4" fill="#fafafa"/><circle cx="649.6" cy="384.1" r="1.4" fill="#fafafa"/><circle cx="627.4" cy="374.1" r="1.4" fill="#fafafa"/><circle cx="641.3" cy="374.5" r="1.3" fill="#fafafa"/></g><path d="M601,340.8 L606.5,340.4 C608,340.5 608.7,341.5 608.7,343 L608.6,346.5 C608.5,348 607.5,348.6 606,348.6 L598.5,348.6 C596.8,348.6 596,347.8 596.1,346.6 C596.5,344.5 598.5,342 601,340.8 Z" fill="#b0b399" stroke="#e8e8e8" stroke-width="1.1" stroke-dasharray="2 1.5"/><path d="M612.5,338.3 L621.5,338.3 C623.5,338.3 624.6,340 624.6,342 C624.6,344.5 623.8,346.8 621,346.8 L613,346.8 C611,346.8 610.3,345.5 610.3,344 L610.3,340.5 C610.3,339.2 611,338.3 612.5,338.3 Z" fill="#b0b399" stroke="#e8e8e8" stroke-width="1.1" stroke-dasharray="2 1.5"/></g><line x1="44" x2="481.0" y1="262.26" y2="262.26" stroke="#e2e2e2" stroke-width="1"/><line x1="44" x2="481.0" y1="217.12" y2="217.12" stroke="#e2e2e2" stroke-width="1"/><line x1="44" x2="481.0" y1="171.98" y2="171.98" stroke="#e2e2e2" stroke-width="1"/><line x1="44" x2="481.0" y1="126.84" y2="126.84" stroke="#e2e2e2" stroke-width="1"/><line x1="44" x2="481.0" y1="81.70" y2="81.70" stroke="#e2e2e2" stroke-width="1"/><line x1="56.30" x2="56.30" y1="43.8" y2="307.4" stroke="#e2e2e2" stroke-width="1"/><line x1="97.53" x2="97.53" y1="43.8" y2="307.4" stroke="#e2e2e2" stroke-width="1"/><line x1="138.76" x2="138.76" y1="43.8" y2="307.4" stroke="#e2e2e2" stroke-width="1"/><line x1="179.99" x2="179.99" y1="43.8" y2="307.4" stroke="#e2e2e2" stroke-width="1"/><line x1="221.22" x2="221.22" y1="43.8" y2="307.4" stroke="#e2e2e2" stroke-width="1"/><line x1="262.45" x2="262.45" y1="43.8" y2="307.4" stroke="#e2e2e2" stroke-width="1"/><line x1="303.68" x2="303.68" y1="43.8" y2="307.4" stroke="#e2e2e2" stroke-width="1"/><line x1="344.91" x2="344.91" y1="43.8" y2="307.4" stroke="#e2e2e2" stroke-width="1"/><line x1="386.14" x2="386.14" y1="43.8" y2="307.4" stroke="#e2e2e2" stroke-width="1"/><line x1="427.37" x2="427.37" y1="43.8" y2="307.4" stroke="#e2e2e2" stroke-width="1"/><line x1="468.60" x2="468.60" y1="43.8" y2="307.4" stroke="#e2e2e2" stroke-width="1"/><rect x="43.90" y="61.84" width="12.4" height="245.56" fill="#b3b3da" stroke="#2b2b2b" stroke-width="1.2"/><rect x="56.30" y="139.03" width="12.4" height="168.37" fill="#cacdb3" stroke="#2b2b2b" stroke-width="1.2"/><rect x="85.13" y="52.81" width="12.4" height="254.59" fill="#b3b3da" stroke="#2b2b2b" stroke-width="1.2"/><rect x="97.53" y="80.35" width="12.4" height="227.05" fill="#cacdb3" stroke="#2b2b2b" stroke-width="1.2"/><rect x="126.36" y="69.51" width="12.4" height="237.89" fill="#b3b3da" stroke="#2b2b2b" stroke-width="1.2"/><rect x="138.76" y="47.84" width="12.4" height="259.56" fill="#cacdb3" stroke="#2b2b2b" stroke-width="1.2"/><rect x="167.59" y="43.78" width="12.4" height="263.62" fill="#b3b3da" stroke="#2b2b2b" stroke-width="1.2"/><rect x="179.99" y="51.91" width="12.4" height="255.49" fill="#cacdb3" stroke="#2b2b2b" stroke-width="1.2"/><rect x="208.82" y="107.88" width="12.4" height="199.52" fill="#b3b3da" stroke="#2b2b2b" stroke-width="1.2"/><rect x="221.22" y="158.89" width="12.4" height="148.51" fill="#cacdb3" stroke="#2b2b2b" stroke-width="1.2"/><rect x="250.05" y="93.44" width="12.4" height="213.96" fill="#b3b3da" stroke="#2b2b2b" stroke-width="1.2"/><rect x="262.45" y="128.65" width="12.4" height="178.75" fill="#cacdb3" stroke="#2b2b2b" stroke-width="1.2"/><rect x="291.28" y="139.48" width="12.4" height="167.92" fill="#b3b3da" stroke="#2b2b2b" stroke-width="1.2"/><rect x="303.68" y="161.60" width="12.4" height="145.80" fill="#cacdb3" stroke="#2b2b2b" stroke-width="1.2"/><rect x="332.51" y="153.47" width="12.4" height="153.93" fill="#b3b3da" stroke="#2b2b2b" stroke-width="1.2"/><rect x="344.91" y="192.29" width="12.4" height="115.11" fill="#cacdb3" stroke="#2b2b2b" stroke-width="1.2"/><rect x="373.74" y="138.12" width="12.4" height="169.28" fill="#b3b3da" stroke="#2b2b2b" stroke-width="1.2"/><rect x="386.14" y="161.82" width="12.4" height="145.58" fill="#cacdb3" stroke="#2b2b2b" stroke-width="1.2"/><rect x="414.97" y="147.60" width="12.4" height="159.80" fill="#b3b3da" stroke="#2b2b2b" stroke-width="1.2"/><rect x="427.37" y="203.13" width="12.4" height="104.27" fill="#cacdb3" stroke="#2b2b2b" stroke-width="1.2"/><rect x="456.20" y="146.70" width="12.4" height="160.70" fill="#b3b3da" stroke="#2b2b2b" stroke-width="1.2"/><rect x="468.60" y="139.03" width="12.4" height="168.37" fill="#cacdb3" stroke="#2b2b2b" stroke-width="1.2"/><line x1="44.1" x2="44.1" y1="43.0" y2="308.0" stroke="#585858" stroke-width="1.5"/><line x1="43.4" x2="481.0" y1="307.4" y2="307.4" stroke="#2b2b2b" stroke-width="1.5"/><rect x="404" y="43" width="74" height="29.5" fill="#fff"/><rect x="408.4" y="46" width="18.2" height="9.3" fill="#b3b3da" stroke="#2b2b2b" stroke-width="1.2"/><rect x="408.4" y="58.9" width="18.2" height="9.5" fill="#cacdb3" stroke="#2b2b2b" stroke-width="1.2"/><path d="M55.90,47.90 L55.90,44.60 M55.90,47.90 L59.04,46.88 M55.90,47.90 L57.84,50.57 M55.90,47.90 L53.96,50.57 M55.90,47.90 L52.76,46.88 " stroke="#000" stroke-width="2.1" stroke-linecap="round" fill="none"/><path d="M137.10,31.35 L137.10,28.05 M137.10,31.35 L140.24,30.33 M137.10,31.35 L139.04,34.02 M137.10,31.35 L135.16,34.02 M137.10,31.35 L133.96,30.33 " stroke="#000" stroke-width="2.1" stroke-linecap="round" fill="none"/><path d="M427.00,132.25 L427.00,128.95 M427.00,132.25 L430.14,131.23 M427.00,132.25 L428.94,134.92 M427.00,132.25 L425.06,134.92 M427.00,132.25 L423.86,131.23 " stroke="#000" stroke-width="2.1" stroke-linecap="round" fill="none"/><path d="M468.50,123.05 L468.50,119.75 M468.50,123.05 L471.64,122.03 M468.50,123.05 L470.44,125.72 M468.50,123.05 L466.56,125.72 M468.50,123.05 L465.36,122.03 " stroke="#000" stroke-width="2.1" stroke-linecap="round" fill="none"/></svg>
<div class="t pl" style="left:0.5px;top:-0.5px">a</div>
<div class="t pl" style="left:516.5px;top:0px">b</div>
<div class="t pl" style="left:517px;top:227.5px">c</div>
<div class="t yt" style="left:7.5px;top:299.60px">0</div>
<div class="t yt" style="left:7.5px;top:254.46px">10</div>
<div class="t yt" style="left:7.5px;top:209.32px">20</div>
<div class="t yt" style="left:7.5px;top:164.18px">30</div>
<div class="t yt" style="left:7.5px;top:119.04px">40</div>
<div class="t yt" style="left:7.5px;top:73.90px">50</div>
<div class="t" style="-webkit-text-stroke:0.05px #1e1e1e;font-size:14px;letter-spacing:0.56px;left:11.6px;top:251.2px;transform-origin:0 0;transform:rotate(-90deg) translate(0,-10.2px)">Proportion of units (%)</div>
<div class="t" style="font-size:14.5px;letter-spacing:0.43px;left:222px;top:380.4px">Task events</div>
<div class="t" style="font-size:12.5px;letter-spacing:0.4px;left:431.5px;top:45px">cOFC</div>
<div class="t" style="font-size:12.5px;letter-spacing:0.4px;left:431.5px;top:58px">pACC</div>
<div class="t xl" style="right:610.20px;bottom:72.30px">Fix point ON</div>
<div class="t xl" style="right:567.45px;bottom:74.20px">Choice cue ON</div>
<div class="t xl" style="right:530.60px;bottom:71.80px">Ap air ON</div>
<div class="t xl" style="right:488.80px;bottom:72.40px">Ap rew ON</div>
<div class="t xl" style="right:447.60px;bottom:72.40px">Av rew ON</div>
<div class="t xl" style="right:405.40px;bottom:72.90px">Ap highlight</div>
<div class="t xl" style="right:364.30px;bottom:73.10px">Av highlight</div>
<div class="t xl" style="right:327.20px;bottom:73.80px">Red bar ON</div>
<div class="t xl" style="right:284.20px;bottom:74.90px">Yellow bar ON</div>
<div class="t xl" style="right:243.30px;bottom:72.40px">Red bar REW</div>
<div class="t xl" style="right:201.90px;bottom:73.60px">Yellow air ON</div>
</body></html>
